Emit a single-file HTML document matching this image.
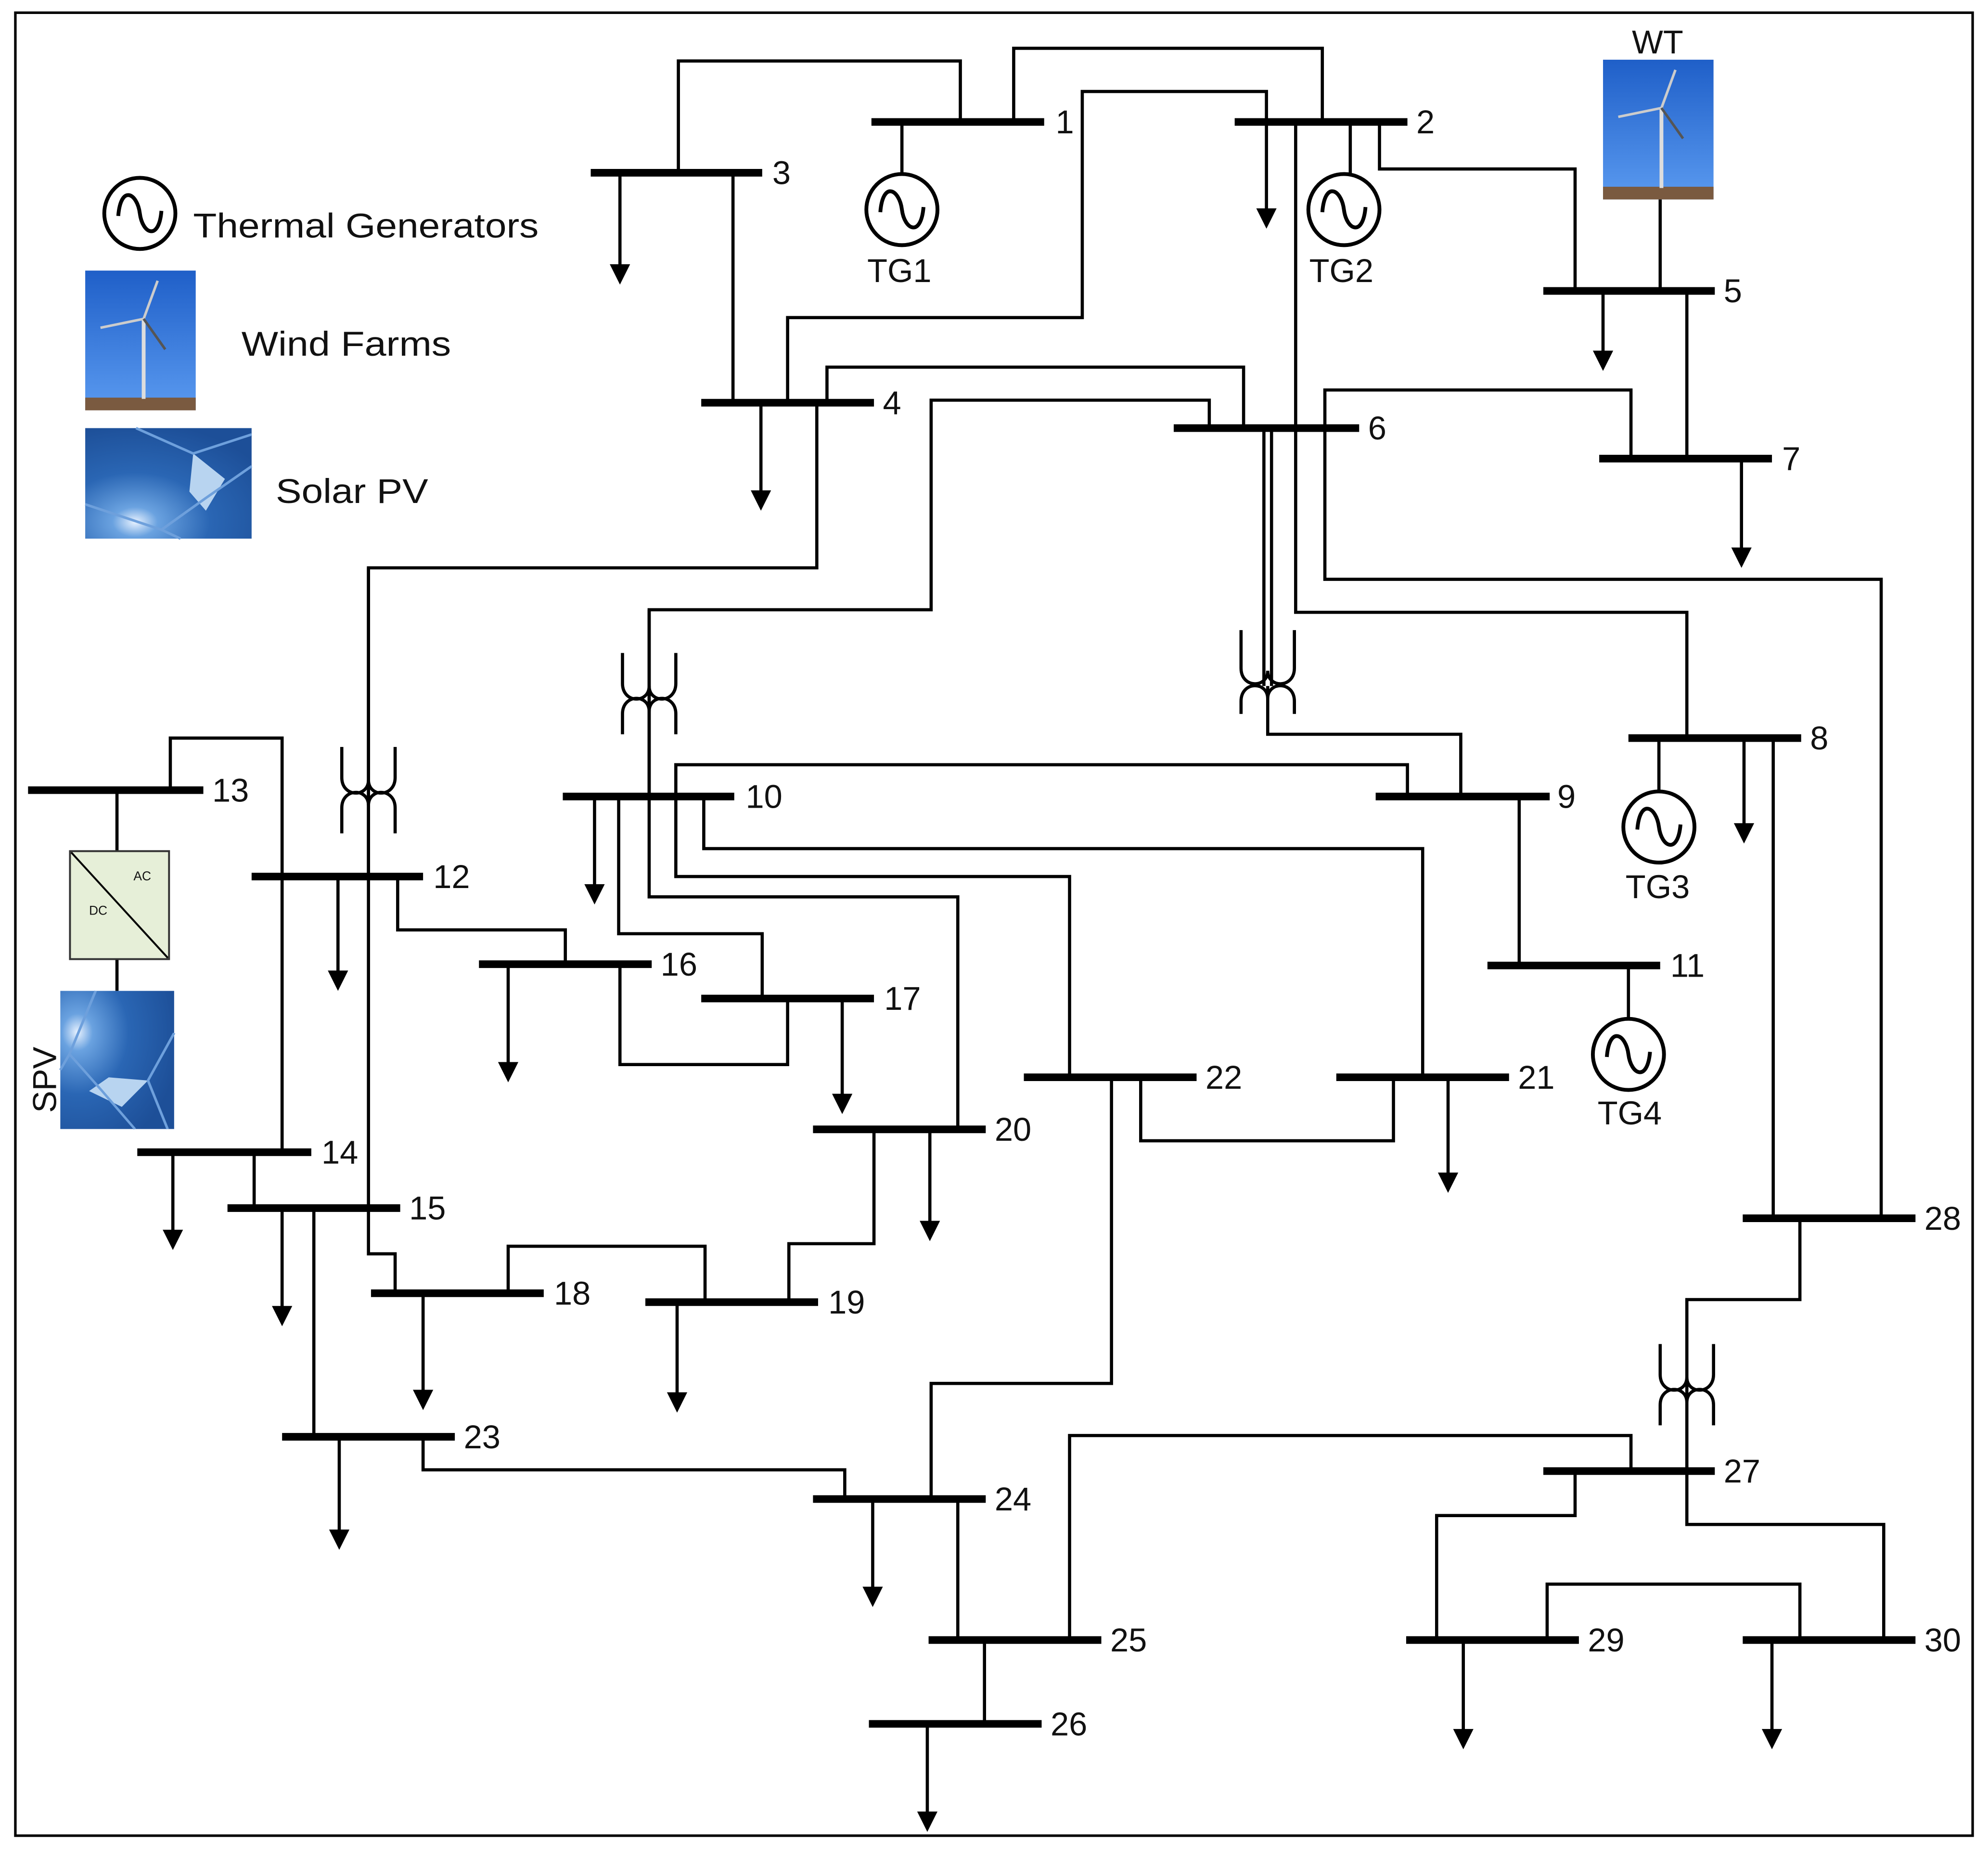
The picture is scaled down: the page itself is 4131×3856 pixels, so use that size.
<!DOCTYPE html>
<html><head><meta charset="utf-8"><style>
html,body{margin:0;padding:0;background:#fff;}
svg{display:block;}
text{font-family:"Liberation Sans",sans-serif;fill:#111;}
</style></head><body>
<svg width="4131" height="3856" viewBox="0 0 1565 1461" xmlns="http://www.w3.org/2000/svg">
<defs>
<linearGradient id="sky" x1="0" y1="0" x2="0" y2="1"><stop offset="0" stop-color="#1f5fc8"/><stop offset="1" stop-color="#5a9af0"/></linearGradient>
<radialGradient id="sun" cx="0.3" cy="0.85" r="0.9"><stop offset="0" stop-color="#e8f2ff"/><stop offset="0.15" stop-color="#6aa2e0"/><stop offset="0.5" stop-color="#2a66b4"/><stop offset="1" stop-color="#1d4f98"/></radialGradient>
<g id="wt">
<rect x="0" y="0" width="87" height="110" fill="url(#sky)"/>
<rect x="0" y="100" width="87" height="10" fill="#7a5a40"/>
<line x1="46" y1="38" x2="46" y2="101" stroke="#ddd" stroke-width="3"/>
<line x1="46" y1="38" x2="57" y2="8" stroke="#ccc" stroke-width="2"/>
<line x1="46" y1="38" x2="12" y2="45" stroke="#ccc" stroke-width="2"/>
<line x1="46" y1="38" x2="63" y2="62" stroke="#555" stroke-width="2"/>
</g>
<g id="pv">
<rect x="0" y="0" width="131" height="87" fill="url(#sun)"/>
<path d="M85,20 L110,40 L95,65 L82,50 Z" fill="#b8d4f0"/>
<path d="M0,60 L60,80 L95,55 L131,30 M60,80 L75,87 M40,0 L85,20 L131,5" stroke="#6ea0dc" stroke-width="2" fill="none"/>
</g>
</defs>
<rect x="12" y="10" width="1541" height="1435" fill="none" stroke="#000" stroke-width="2"/>

<!-- legend -->
<circle cx="110" cy="168" r="28" fill="none" stroke="#000" stroke-width="3"/>
<path d="M93,170 C95,145 108,152 110,168 C112,184 125,190 127,166" fill="none" stroke="#000" stroke-width="3"/>
<text x="152" y="187" font-size="27" textLength="272" lengthAdjust="spacingAndGlyphs">Thermal Generators</text>
<use href="#wt" x="67" y="213"/>
<text x="190" y="280" font-size="27" textLength="165" lengthAdjust="spacingAndGlyphs">Wind Farms</text>
<use href="#pv" x="67" y="337"/>
<text x="217" y="396" font-size="27" textLength="120" lengthAdjust="spacingAndGlyphs">Solar PV</text>

<!-- thin lines -->
<g fill="none" stroke="#000" stroke-width="2.5">
<path d="M534,136 V48 H756 V96"/>
<path d="M798,96 V38 H1041 V96"/>
<path d="M620,317 V250 H852 V72 H997 V96"/>
<path d="M577,136 V317"/>
<path d="M1086,96 V133 H1240 V229"/>
<path d="M1020,96 V482 H1328 V581"/>
<path d="M651,317 V289 H979 V337"/>
<path d="M1328,229 V361"/>
<path d="M1307,157 V229"/>
<path d="M1043,337 V307 H1284 V361"/>
<path d="M1043,337 V456 H1481 V959"/>
<path d="M995,337 V540 M1001,337 V540"/>
<path d="M998,540 V578 H1150 V627"/>
<path d="M952,337 V315 H733 V480 H511 V706 H754 V889"/>
<path d="M643,317 V447 H290 V987 H311 V1018"/>
<path d="M710,96 V137 M1063,96 V137"/>
<path d="M1306,581 V623 M1396,581 V959"/>
<path d="M1196,627 V760 M1282,760 V802"/>
<path d="M532,627 V602 H1108 V627"/>
<path d="M487,627 V735 H600 V786"/>
<path d="M532,627 V690 H842 V848"/>
<path d="M554,627 V668 H1120 V848"/>
<path d="M134,622 V581 H222 V907"/>
<path d="M313,690 V732 H445 V759"/>
<path d="M488,759 V838 H620 V786"/>
<path d="M621,1025 V979 H688 V889"/>
<path d="M898,848 V898 H1097 V848"/>
<path d="M875,848 V1089 H733 V1180"/>
<path d="M92,622 V670 M92,755 V780"/>
<path d="M200,907 V951 M247,951 V1131"/>
<path d="M400,1018 V981 H555 V1025"/>
<path d="M333,1131 V1157 H665 V1180"/>
<path d="M754,1180 V1291 M775,1291 V1357"/>
<path d="M842,1291 V1130 H1284 V1158"/>
<path d="M1417,959 V1023 H1328 V1200 H1483 V1291"/>
<path d="M1240,1158 V1193 H1131 V1291"/>
<path d="M1218,1291 V1247 H1417 V1291"/>
<path d="M488,136 V210 M997,96 V166 M1262,229 V278 M599,317 V388 M1371,361 V433 M1373,581 V650 M468,627 V698 M266,690 V766 M400,759 V838 M663,786 V863 M732,889 V963 M1140,848 V925 M136,907 V970 M222,951 V1030 M333,1018 V1096 M533,1025 V1098 M267,1131 V1206 M687,1180 V1251 M730,1357 V1428 M1152,1291 V1363 M1395,1291 V1363"/>
</g>
<g fill="#000">
<path d="M480,208 h16 l-8,16z M989,164 h16 l-8,16z M1254,276 h16 l-8,16z M591,386 h16 l-8,16z M1363,431 h16 l-8,16z M1365,648 h16 l-8,16z M460,696 h16 l-8,16z M258,764 h16 l-8,16z M392,836 h16 l-8,16z M655,861 h16 l-8,16z M724,961 h16 l-8,16z M1132,923 h16 l-8,16z M128,968 h16 l-8,16z M214,1028 h16 l-8,16z M325,1094 h16 l-8,16z M525,1096 h16 l-8,16z M259,1204 h16 l-8,16z M679,1249 h16 l-8,16z M722,1426 h16 l-8,16z M1144,1361 h16 l-8,16z M1387,1361 h16 l-8,16z"/>
</g>

<!-- transformers -->
<g fill="none" stroke="#000" stroke-width="2.5">
<path d="M977,496 V526 C977,542 998,542 998,528 C998,542 1019,542 1019,526 V496"/>
<path d="M977,562 V552 C977,536 998,536 998,550 C998,536 1019,536 1019,552 V562"/>
<path d="M490,514 V538 C490,554 511,554 511,540 C511,554 532,554 532,538 V514"/>
<path d="M490,578 V562 C490,546 511,546 511,560 C511,546 532,546 532,562 V578"/>
<path d="M269,588 V612 C269,628 290,628 290,614 C290,628 311,628 311,612 V588"/>
<path d="M269,656 V636 C269,620 290,620 290,634 C290,620 311,620 311,636 V656"/>
<path d="M1307,1058 V1082 C1307,1098 1328,1098 1328,1084 C1328,1098 1349,1098 1349,1082 V1058"/>
<path d="M1307,1122 V1106 C1307,1090 1328,1090 1328,1104 C1328,1090 1349,1090 1349,1106 V1122"/>
<line x1="511" y1="480" x2="511" y2="627"/>
<line x1="290" y1="447" x2="290" y2="690"/>
</g>

<!-- generators -->
<g fill="none" stroke="#000" stroke-width="3">
<circle cx="710" cy="165" r="28"/><path d="M693,167 C695,142 708,149 710,165 C712,181 725,187 727,163"/>
<circle cx="1058" cy="165" r="28"/><path d="M1041,167 C1043,142 1056,149 1058,165 C1060,181 1073,187 1075,163"/>
<circle cx="1306" cy="651" r="28"/><path d="M1289,653 C1291,628 1304,635 1306,651 C1308,667 1321,673 1323,649"/>
<circle cx="1282" cy="830" r="28"/><path d="M1265,832 C1267,807 1280,814 1282,830 C1284,846 1297,852 1299,828"/>
</g>
<g font-size="26" text-anchor="middle">
<text x="708" y="222">TG1</text><text x="1056" y="222">TG2</text>
<text x="1305" y="707">TG3</text><text x="1283" y="885">TG4</text>
<text x="1305" y="42">WT</text>
</g>
<use href="#wt" x="1262" y="47"/>

<!-- converter + SPV -->
<rect x="55" y="670" width="78" height="85" fill="#e6efd8" stroke="#333" stroke-width="1.5"/>
<line x1="56" y1="671" x2="132" y2="754" stroke="#000" stroke-width="1.5"/>
<text x="105" y="693" font-size="10" font-family="Liberation Serif">AC</text>
<text x="70" y="720" font-size="10" font-family="Liberation Serif">DC</text>
<g transform="translate(137,780) rotate(90)"><use href="#pv" x="0" y="0" transform="scale(0.83,1.03)"/></g>
<text x="0" y="0" font-size="26" transform="translate(44,876) rotate(-90)">SPV</text>

<!-- buses -->
<g stroke="#000" stroke-width="6">
<line x1="686" y1="96" x2="822" y2="96"/>
<line x1="972" y1="96" x2="1108" y2="96"/>
<line x1="465" y1="136" x2="600" y2="136"/>
<line x1="552" y1="317" x2="688" y2="317"/>
<line x1="1215" y1="229" x2="1350" y2="229"/>
<line x1="924" y1="337" x2="1070" y2="337"/>
<line x1="1259" y1="361" x2="1395" y2="361"/>
<line x1="1282" y1="581" x2="1418" y2="581"/>
<line x1="1083" y1="627" x2="1220" y2="627"/>
<line x1="443" y1="627" x2="578" y2="627"/>
<line x1="1171" y1="760" x2="1307" y2="760"/>
<line x1="198" y1="690" x2="333" y2="690"/>
<line x1="22" y1="622" x2="160" y2="622"/>
<line x1="108" y1="907" x2="245" y2="907"/>
<line x1="179" y1="951" x2="315" y2="951"/>
<line x1="377" y1="759" x2="513" y2="759"/>
<line x1="552" y1="786" x2="688" y2="786"/>
<line x1="292" y1="1018" x2="428" y2="1018"/>
<line x1="508" y1="1025" x2="644" y2="1025"/>
<line x1="640" y1="889" x2="776" y2="889"/>
<line x1="1052" y1="848" x2="1188" y2="848"/>
<line x1="806" y1="848" x2="942" y2="848"/>
<line x1="222" y1="1131" x2="358" y2="1131"/>
<line x1="640" y1="1180" x2="776" y2="1180"/>
<line x1="731" y1="1291" x2="867" y2="1291"/>
<line x1="684" y1="1357" x2="820" y2="1357"/>
<line x1="1215" y1="1158" x2="1350" y2="1158"/>
<line x1="1372" y1="959" x2="1508" y2="959"/>
<line x1="1107" y1="1291" x2="1243" y2="1291"/>
<line x1="1372" y1="1291" x2="1508" y2="1291"/>
</g>
<g font-size="26">
<text x="831" y="105">1</text><text x="1115" y="105">2</text><text x="608" y="145">3</text>
<text x="695" y="326">4</text><text x="1357" y="238">5</text><text x="1077" y="346">6</text>
<text x="1403" y="370">7</text><text x="1425" y="590">8</text><text x="1226" y="636">9</text>
<text x="587" y="636">10</text><text x="1315" y="769">11</text><text x="341" y="699">12</text>
<text x="167" y="631">13</text><text x="253" y="916">14</text><text x="322" y="960">15</text>
<text x="520" y="768">16</text><text x="696" y="795">17</text><text x="436" y="1027">18</text>
<text x="652" y="1034">19</text><text x="783" y="898">20</text><text x="1195" y="857">21</text>
<text x="949" y="857">22</text><text x="365" y="1140">23</text><text x="783" y="1189">24</text>
<text x="874" y="1300">25</text><text x="827" y="1366">26</text><text x="1357" y="1167">27</text>
<text x="1515" y="968">28</text><text x="1250" y="1300">29</text><text x="1515" y="1300">30</text>
</g>
</svg>
</body></html>
